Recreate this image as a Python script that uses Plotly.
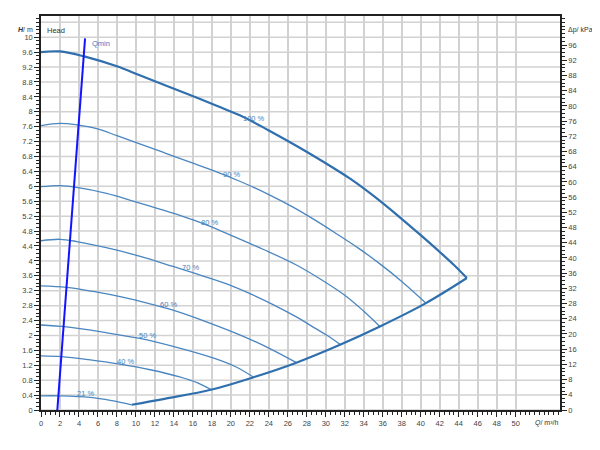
import plotly.graph_objects as go

# ---- data ----
q100 = [0, 2, 4.64, 8, 10.4, 13, 15.7, 18.5, 21, 24, 27.3, 30, 32.6, 35, 37.8, 40, 42, 43.5, 44.86]
h100 = [9.6, 9.62, 9.48, 9.22, 8.98, 8.72, 8.45, 8.16, 7.9, 7.5, 7.03, 6.62, 6.2, 5.75, 5.17, 4.69, 4.24, 3.89, 3.54]

q90 = [0, 2, 3.76, 5.87, 8, 10.4, 13, 15.7, 18.5, 21, 24, 26.5, 28.7, 31, 33.5, 35.7, 38, 40.5]
h90 = [7.63, 7.69, 7.65, 7.55, 7.36, 7.14, 6.9, 6.65, 6.39, 6.13, 5.78, 5.45, 5.12, 4.75, 4.33, 3.92, 3.45, 2.88]

q80 = [0, 2, 3.76, 6.9, 9.5, 12.5, 15, 17.1, 19.9, 23.5, 26.9, 29.5, 32.2, 34, 35.7]
h80 = [5.99, 6.02, 5.97, 5.81, 5.62, 5.39, 5.19, 5.0, 4.70, 4.3, 3.89, 3.5, 3.04, 2.65, 2.24]

q70 = [0, 2, 3.76, 8, 11, 13.9, 17, 19.9, 22.2, 24.5, 26.8, 28.9, 30.2, 31.5]
h70 = [4.54, 4.58, 4.52, 4.29, 4.08, 3.85, 3.6, 3.35, 3.1, 2.82, 2.51, 2.19, 1.99, 1.76]

q60 = [0, 2.7, 5.5, 8.7, 11.3, 13.9, 17.5, 21, 24, 26.9]
h60 = [3.33, 3.29, 3.18, 3.02, 2.86, 2.68, 2.36, 2.01, 1.66, 1.27]

q50 = [0, 2.7, 6.5, 10.4, 14, 18.2, 20.5, 22.4]
h50 = [2.28, 2.23, 2.09, 1.92, 1.70, 1.39, 1.16, 0.88]

q40 = [0, 2.2, 5, 8.3, 11.5, 14.6, 16.5, 17.9]
h40 = [1.45, 1.43, 1.35, 1.23, 1.08, 0.89, 0.73, 0.55]

q21 = [0, 2, 5.2, 7.5, 9.55]
h21 = [0.38, 0.38, 0.34, 0.25, 0.14]

q_sys = [9.55, 13, 18, 22.4, 26.9, 31.5, 35.7, 40.5, 44.86]
h_sys = [0.14, 0.3, 0.55, 0.88, 1.27, 1.75, 2.24, 2.86, 3.54]

q_min = [1.72, 4.64]
h_min = [0.0, 9.97]

curve_names = ["100 %", "90 %", "80 %", "70 %", "60 %", "50 %", "40 %", "21 %"]
label_q = [22.4, 20.1, 17.8, 15.7, 13.4, 11.2, 8.85, 4.64]
label_h = [7.83, 6.33, 5.02, 3.83, 2.84, 2.01, 1.29, 0.43]

x_ticks = list(range(0, 51, 2))
h_ticks = [round(0.4 * i, 1) for i in range(26)]
kpa_ticks = list(range(0, 97, 4))
h_grid = [round(0.4 * i, 1) for i in range(27)]

KPA_PER_M = 9.807
X_MAX = 54.67
Y_MAX = 10.57

# ---- figure ----
thin = "#4a86c0"
thick = "#2f6fae"
fig = go.Figure()

series = [(q90, h90), (q80, h80), (q70, h70), (q60, h60), (q50, h50), (q40, h40), (q21, h21)]
for qq, hh in series:
    fig.add_trace(go.Scatter(x=qq, y=hh, mode="lines", line=dict(color=thin, width=1.3, shape="spline", smoothing=1),
                             hoverinfo="skip", showlegend=False))

fig.add_trace(go.Scatter(x=q100, y=h100, mode="lines", line=dict(color=thick, width=2.2, shape="spline", smoothing=1),
                         hoverinfo="skip", showlegend=False))
fig.add_trace(go.Scatter(x=q_sys, y=h_sys, mode="lines", line=dict(color=thick, width=2.2, shape="spline", smoothing=1),
                         hoverinfo="skip", showlegend=False))
fig.add_trace(go.Scatter(x=q_min, y=h_min, mode="lines", line=dict(color="#1414ff", width=2),
                         hoverinfo="skip", showlegend=False))
# invisible trace for the right axis
fig.add_trace(go.Scatter(x=[0], y=[0], yaxis="y2", mode="markers", marker=dict(opacity=0),
                         hoverinfo="skip", showlegend=False))

font_fam = "Liberation Sans, Arial, sans-serif"
for name, lq, lh in zip(curve_names, label_q, label_h):
    fig.add_annotation(x=lq, y=lh, text=name, showarrow=False, font=dict(size=7.5, color="#4a80b8", family=font_fam))

fig.add_annotation(x=5.7, y=9.82, text="Qmin", showarrow=False, xanchor="left",
                   font=dict(size=7.5, color="#3d7cc9", family=font_fam), xshift=-5)
fig.add_annotation(xref="paper", yref="paper", x=0.008, y=0.98, text="Head", showarrow=False,
                   xanchor="left", font=dict(size=7.5, color="#333", family=font_fam))
fig.add_annotation(xref="paper", yref="paper", x=-0.012, y=0.98, text="<i><b>H</b></i>/ m", showarrow=False,
                   xanchor="right", font=dict(size=7, color="#333", family=font_fam))
fig.add_annotation(xref="paper", yref="paper", x=1.012, y=0.98, text="Δp/ kPa", showarrow=False, xanchor="left",
                   font=dict(size=7, color="#333", family=font_fam))
fig.add_annotation(x=53.3, yref="paper", y=0, text="<i>Q</i>/ m³/h", showarrow=False, yanchor="top", yshift=-7,
                   font=dict(size=7, color="#333", family=font_fam))

# horizontal grid lines up to 10.4
for g in h_grid:
    fig.add_shape(type="line", xref="paper", yref="y", x0=0, x1=1, y0=g, y1=g,
                  line=dict(color="#d2d2d2", width=1.5), layer="below")

# the page body has an 8px margin, so the figure is sized to fit 600x450 exactly
fig.update_layout(
    width=592, height=434,
    margin=dict(l=33, r=40, t=8, b=32, autoexpand=False),
    paper_bgcolor="white", plot_bgcolor="white",
    font=dict(family=font_fam, size=8, color="#333"),
    xaxis=dict(range=[0, X_MAX], tickvals=x_ticks, showgrid=True, gridcolor="#d2d2d2", gridwidth=1.5,
               zeroline=False, showline=True, linecolor="#222", linewidth=1.5, mirror=True, automargin=False,
               ticks="outside", ticklen=5, tickcolor="#222", tickwidth=1,
               minor=dict(dtick=0.5, ticks="outside", ticklen=3, tickcolor="#222", showgrid=False),
               tickfont=dict(size=7.5, color="#444")),
    yaxis=dict(range=[0, Y_MAX], tickvals=h_ticks, ticktext=[("%g" % v) for v in h_ticks], showgrid=False,
               zeroline=False, showline=True, linecolor="#222", linewidth=1.5, automargin=False,
               ticks="outside", ticklen=5, tickcolor="#222", tickwidth=1,
               minor=dict(dtick=0.1, ticks="outside", ticklen=3, tickcolor="#222", showgrid=False),
               tickfont=dict(size=7.5, color="#444")),
    yaxis2=dict(range=[0, Y_MAX * KPA_PER_M], overlaying="y", side="right", tickvals=kpa_ticks, showgrid=False,
                zeroline=False, showline=True, linecolor="#222", linewidth=1.5, automargin=False,
                ticks="outside", ticklen=5, tickcolor="#222", tickwidth=1,
                minor=dict(dtick=1, ticks="outside", ticklen=3, tickcolor="#222", showgrid=False),
                tickfont=dict(size=7.5, color="#444")),
)

fig.write_html("out.html")
